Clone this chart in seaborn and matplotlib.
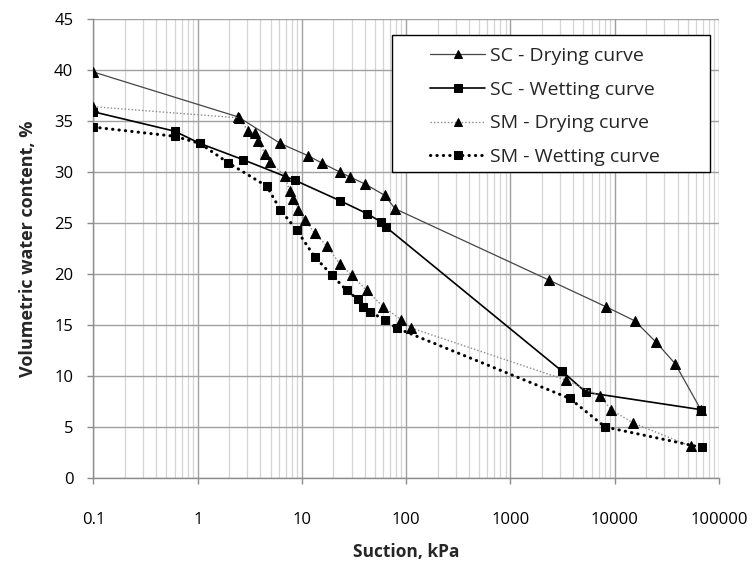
import matplotlib
matplotlib.use("Agg")
import matplotlib.pyplot as plt
import seaborn as sns
from matplotlib.ticker import FixedLocator, FixedFormatter, LogLocator, NullFormatter
from matplotlib.patches import Rectangle

# Soil-water characteristic data: suction (kPa) vs volumetric water content (%)
sc_dry_suction = [0.1, 2.44, 6.2, 11.4, 15.4, 23.0, 29.0, 40.6, 62.5, 78.0,
                  2340, 8200, 15600, 25000, 38000, 67000]
sc_dry_theta = [39.8, 35.4, 32.8, 31.6, 30.9, 30.0, 29.5, 28.8, 27.7, 26.4,
                19.4, 16.8, 15.4, 13.3, 11.2, 6.7]

sc_wet_suction = [0.1, 0.6, 1.05, 2.73, 8.5, 23.0, 42.4, 57.4, 64.0, 3100, 5300, 67000]
sc_wet_theta = [35.9, 34.0, 32.8, 31.2, 29.2, 27.2, 25.9, 25.1, 24.6, 10.5, 8.4, 6.7]

sm_dry_suction = [0.1, 2.5, 3.05, 3.54, 3.8, 4.43, 4.9, 6.9, 7.6, 8.25, 9.2, 10.7,
                  13.2, 17.5, 23.0, 29.9, 41.6, 60.0, 90.0, 112, 3400, 7300, 9200,
                  15000, 54000]
sm_dry_theta = [36.4, 35.3, 34.0, 33.8, 33.0, 31.8, 31.0, 29.6, 28.1, 27.4, 26.3, 25.3,
                24.0, 22.7, 21.0, 19.9, 18.4, 16.8, 15.5, 14.7, 9.6, 8.0, 6.7,
                5.4, 3.1]

sm_wet_suction = [0.1, 0.6, 1.05, 1.96, 4.6, 6.2, 8.9, 13.2, 19.3, 26.8, 34.5, 38.6,
                  44.9, 62.0, 80.7, 3700, 8100, 68000]
sm_wet_theta = [34.4, 33.5, 32.8, 30.9, 28.6, 26.3, 24.3, 21.7, 19.9, 18.4, 17.5, 16.8,
                16.3, 15.5, 14.7, 7.8, 5.0, 3.0]

x_ticks = [0.1, 1, 10, 100, 1000, 10000, 100000]
x_tick_labels = ["0.1", "1", "10", "100", "1000", "10000", "100000"]
y_ticks = [0, 5, 10, 15, 20, 25, 30, 35, 40, 45]

sns.set_theme(style="white")
plt.rcParams["font.family"] = ["Open Sans", "DejaVu Sans"]

fig = plt.figure(figsize=(7.52, 5.65), dpi=100)
ax = fig.add_axes([0.1243, 0.154, 0.8318, 0.8124])

common = dict(ax=ax, sort=False, estimator=None, markeredgecolor="black",
              markerfacecolor="black", zorder=3)

sns.lineplot(x=sc_dry_suction, y=sc_dry_theta, color="#454545", linewidth=0.9,
             linestyle="-", marker="^", markersize=6.5, label="SC - Drying curve", **common)
sns.lineplot(x=sc_wet_suction, y=sc_wet_theta, color="black", linewidth=1.2,
             linestyle="-", marker="s", markersize=6, label="SC - Wetting curve", **common)
sns.lineplot(x=sm_dry_suction, y=sm_dry_theta, color="#8a8a8a", linewidth=1.0,
             linestyle=(0, (1, 1.5)), marker="^", markersize=6.5,
             label="SM - Drying curve", **common)
sns.lineplot(x=sm_wet_suction, y=sm_wet_theta, color="black", linewidth=2.2,
             linestyle=(0, (0.1, 2.0)), dash_capstyle="round", marker="s", markersize=6,
             label="SM - Wetting curve", **common)

ax.set_xscale("log")
ax.set_xlim(0.1, 100000)
ax.set_ylim(0, 45)
ax.xaxis.set_major_locator(FixedLocator(x_ticks))
ax.xaxis.set_major_formatter(FixedFormatter(x_tick_labels))
ax.xaxis.set_minor_locator(LogLocator(base=10, subs=range(2, 10), numticks=20))
ax.xaxis.set_minor_formatter(NullFormatter())
ax.set_yticks(y_ticks)

ax.grid(which="major", axis="both", color="#a0a0a0", linewidth=1.0, zorder=0)
ax.grid(which="minor", axis="x", color="#d4d4d4", linewidth=0.9, zorder=0)
ax.set_axisbelow(True)

for side in ["top", "right"]:
    ax.spines[side].set_visible(False)
for side in ["left", "bottom"]:
    ax.spines[side].set_color("#8c8c8c")
    ax.spines[side].set_linewidth(1.0)

ax.tick_params(axis="x", which="major", direction="out", length=4.5, width=1.0,
               color="#8c8c8c", pad=20, labelsize=12, labelcolor="black")
ax.tick_params(axis="x", which="minor", length=0)
ax.tick_params(axis="y", which="major", direction="out", length=4.5, width=1.0,
               color="#8c8c8c", pad=10, labelsize=12, labelcolor="black")
ax.tick_params(bottom=True, left=True)

ax.set_xlabel("Suction, kPa", fontsize=12.5, fontweight="bold", labelpad=11)
ax.set_ylabel("Volumetric water content, %", fontsize=13, fontweight="bold", labelpad=12)

# Legend with a framed box
ax.add_patch(Rectangle((0.4772, 0.6667), 0.5084, 0.2984, transform=ax.transAxes,
                       facecolor="white", edgecolor="black", linewidth=1.0, zorder=5))
leg = ax.legend(loc="upper left", bbox_to_anchor=(0.538, 0.939), frameon=False,
                fontsize=14, handlelength=2.85, handletextpad=0.25, labelspacing=0.81,
                borderpad=0, borderaxespad=0, markerscale=0.85)
leg.set_zorder(6)

fig.savefig("out.png", dpi=100)
